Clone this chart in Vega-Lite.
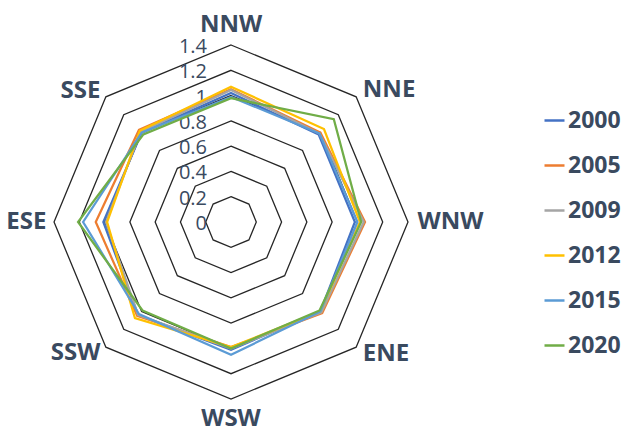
{
  "$schema": "https://vega.github.io/schema/vega-lite/v6.json",
  "width": 622,
  "height": 433,
  "autosize": "none",
  "padding": 0,
  "config": {"view": {"stroke": null}, "font": "Open Sans"},
  "datasets": {
    "series": [
      {"year": "2000", "direction": "NNW", "value": 1.02},
      {"year": "2000", "direction": "NNE", "value": 0.98},
      {"year": "2000", "direction": "WNW", "value": 0.98},
      {"year": "2000", "direction": "ENE", "value": 1.0},
      {"year": "2000", "direction": "WSW", "value": 1.01},
      {"year": "2000", "direction": "SSW", "value": 1.04},
      {"year": "2000", "direction": "ESE", "value": 1.01},
      {"year": "2000", "direction": "SSE", "value": 1.0},
      {"year": "2005", "direction": "NNW", "value": 1.05},
      {"year": "2005", "direction": "NNE", "value": 1.0},
      {"year": "2005", "direction": "WNW", "value": 1.06},
      {"year": "2005", "direction": "ENE", "value": 1.02},
      {"year": "2005", "direction": "WSW", "value": 0.99},
      {"year": "2005", "direction": "SSW", "value": 1.05},
      {"year": "2005", "direction": "ESE", "value": 1.07},
      {"year": "2005", "direction": "SSE", "value": 1.03},
      {"year": "2009", "direction": "NNW", "value": 1.045},
      {"year": "2009", "direction": "NNE", "value": 0.99},
      {"year": "2009", "direction": "WNW", "value": 1.05},
      {"year": "2009", "direction": "ENE", "value": 1.01},
      {"year": "2009", "direction": "WSW", "value": 1.0},
      {"year": "2009", "direction": "SSW", "value": 1.04},
      {"year": "2009", "direction": "ESE", "value": 0.99},
      {"year": "2009", "direction": "SSE", "value": 1.01},
      {"year": "2012", "direction": "NNW", "value": 1.07},
      {"year": "2012", "direction": "NNE", "value": 1.04},
      {"year": "2012", "direction": "WNW", "value": 1.02},
      {"year": "2012", "direction": "ENE", "value": 1.0},
      {"year": "2012", "direction": "WSW", "value": 0.99},
      {"year": "2012", "direction": "SSW", "value": 1.075},
      {"year": "2012", "direction": "ESE", "value": 0.98},
      {"year": "2012", "direction": "SSE", "value": 1.02},
      {"year": "2015", "direction": "NNW", "value": 0.99},
      {"year": "2015", "direction": "NNE", "value": 0.99},
      {"year": "2015", "direction": "WNW", "value": 1.0},
      {"year": "2015", "direction": "ENE", "value": 1.0},
      {"year": "2015", "direction": "WSW", "value": 1.05},
      {"year": "2015", "direction": "SSW", "value": 1.03},
      {"year": "2015", "direction": "ESE", "value": 1.17},
      {"year": "2015", "direction": "SSE", "value": 1.0},
      {"year": "2020", "direction": "NNW", "value": 0.98},
      {"year": "2020", "direction": "NNE", "value": 1.15},
      {"year": "2020", "direction": "WNW", "value": 1.03},
      {"year": "2020", "direction": "ENE", "value": 0.99},
      {"year": "2020", "direction": "WSW", "value": 1.0},
      {"year": "2020", "direction": "SSW", "value": 0.99},
      {"year": "2020", "direction": "ESE", "value": 1.21},
      {"year": "2020", "direction": "SSE", "value": 0.98}
    ],
    "grid": [
      {"level": 0.2, "direction": ["NNW","NNE","WNW","ENE","WSW","SSW","ESE","SSE"]},
      {"level": 0.4, "direction": ["NNW","NNE","WNW","ENE","WSW","SSW","ESE","SSE"]},
      {"level": 0.6, "direction": ["NNW","NNE","WNW","ENE","WSW","SSW","ESE","SSE"]},
      {"level": 0.8, "direction": ["NNW","NNE","WNW","ENE","WSW","SSW","ESE","SSE"]},
      {"level": 1.0, "direction": ["NNW","NNE","WNW","ENE","WSW","SSW","ESE","SSE"]},
      {"level": 1.2, "direction": ["NNW","NNE","WNW","ENE","WSW","SSW","ESE","SSE"]},
      {"level": 1.4, "direction": ["NNW","NNE","WNW","ENE","WSW","SSW","ESE","SSE"]}
    ],
    "ticks": [
      {"level": 0, "label": "0"},
      {"level": 0.2, "label": "0.2"},
      {"level": 0.4, "label": "0.4"},
      {"level": 0.6, "label": "0.6"},
      {"level": 0.8, "label": "0.8"},
      {"level": 1.0, "label": "1"},
      {"level": 1.2, "label": "1.2"},
      {"level": 1.4, "label": "1.4"}
    ],
    "dirs": [
      {"direction": "NNW", "side": "center"},
      {"direction": "NNE", "side": "left"},
      {"direction": "WNW", "side": "left"},
      {"direction": "ENE", "side": "left"},
      {"direction": "WSW", "side": "center"},
      {"direction": "SSW", "side": "right"},
      {"direction": "ESE", "side": "right"},
      {"direction": "SSE", "side": "right"}
    ]
  },
  "layer": [
    {
      "data": {"name": "grid"},
      "transform": [
        {"flatten": ["direction"]},
        {"calculate": "indexof(['NNW','NNE','WNW','ENE','WSW','SSW','ESE','SSE'], datum.direction)", "as": "idx"},
        {"calculate": "PI/2 - datum.idx*PI/4", "as": "ang"},
        {"calculate": "datum.level*cos(datum.ang)", "as": "px"},
        {"calculate": "datum.level*sin(datum.ang)", "as": "py"}
      ],
      "mark": {"type": "line", "interpolate": "linear-closed", "stroke": "#262626", "strokeWidth": 1.3},
      "encoding": {
        "x": {"field": "px", "type": "quantitative", "scale": {"domain": [-1.8275, 3.093], "nice": false, "zero": false}, "axis": null},
        "y": {"field": "py", "type": "quantitative", "scale": {"domain": [-1.669, 1.756], "nice": false, "zero": false}, "axis": null},
        "detail": {"field": "level", "type": "nominal"},
        "order": {"field": "idx", "type": "quantitative"}
      }
    },
    {
      "data": {"name": "ticks"},
      "mark": {"type": "text", "align": "right", "baseline": "middle", "dx": -24, "dy": 2, "fontSize": 20, "color": "#3a4a5f"},
      "encoding": {
        "x": {"datum": 0, "type": "quantitative"},
        "y": {"field": "level", "type": "quantitative"},
        "text": {"field": "label", "type": "nominal"}
      }
    },
    {
      "data": {"name": "series"},
      "transform": [
        {"calculate": "indexof(['NNW','NNE','WNW','ENE','WSW','SSW','ESE','SSE'], datum.direction)", "as": "idx"},
        {"calculate": "PI/2 - datum.idx*PI/4", "as": "ang"},
        {"calculate": "datum.value*cos(datum.ang)", "as": "px"},
        {"calculate": "datum.value*sin(datum.ang)", "as": "py"}
      ],
      "mark": {"type": "line", "interpolate": "linear-closed", "strokeWidth": 2.25},
      "encoding": {
        "x": {"field": "px", "type": "quantitative"},
        "y": {"field": "py", "type": "quantitative"},
        "order": {"field": "idx", "type": "quantitative"},
        "color": {
          "field": "year", "type": "nominal",
          "scale": {"domain": ["2000","2005","2009","2012","2015","2020"], "range": ["#4472C4","#ED7D31","#A5A5A5","#FFC000","#5B9BD5","#70AD47"]},
          "legend": {
            "title": null, "orient": "none", "legendX": 543, "legendY": 109,
            "symbolType": "stroke", "symbolSize": 400, "symbolStrokeWidth": 2.5,
            "labelFontSize": 23, "labelFontWeight": "bold", "labelColor": "#3a4a5f", "labelFont": "Open Sans",
            "labelOffset": 2, "rowPadding": 21, "padding": 0
          }
        }
      }
    },
    {
      "data": {"name": "dirs"},
      "transform": [
        {"filter": "datum.side == 'center'"},
        {"calculate": "indexof(['NNW','NNE','WNW','ENE','WSW','SSW','ESE','SSE'], datum.direction)", "as": "idx"},
        {"calculate": "PI/2 - datum.idx*PI/4", "as": "ang"},
        {"calculate": "1.555*cos(datum.ang)", "as": "px"},
        {"calculate": "1.555*sin(datum.ang)", "as": "py"}
      ],
      "mark": {"type": "text", "align": "center", "baseline": "middle", "fontSize": 24, "fontWeight": "bold", "color": "#3a4a5f"},
      "encoding": {
        "x": {"field": "px", "type": "quantitative"},
        "y": {"field": "py", "type": "quantitative"},
        "text": {"field": "direction", "type": "nominal"}
      }
    },
    {
      "data": {"name": "dirs"},
      "transform": [
        {"filter": "datum.side == 'left'"},
        {"calculate": "indexof(['NNW','NNE','WNW','ENE','WSW','SSW','ESE','SSE'], datum.direction)", "as": "idx"},
        {"calculate": "PI/2 - datum.idx*PI/4", "as": "ang"},
        {"calculate": "1.475*cos(datum.ang)", "as": "px"},
        {"calculate": "1.475*sin(datum.ang)", "as": "py"}
      ],
      "mark": {"type": "text", "align": "left", "baseline": "middle", "fontSize": 24, "fontWeight": "bold", "color": "#3a4a5f"},
      "encoding": {
        "x": {"field": "px", "type": "quantitative"},
        "y": {"field": "py", "type": "quantitative"},
        "text": {"field": "direction", "type": "nominal"}
      }
    },
    {
      "data": {"name": "dirs"},
      "transform": [
        {"filter": "datum.side == 'right'"},
        {"calculate": "indexof(['NNW','NNE','WNW','ENE','WSW','SSW','ESE','SSE'], datum.direction)", "as": "idx"},
        {"calculate": "PI/2 - datum.idx*PI/4", "as": "ang"},
        {"calculate": "1.46*cos(datum.ang)", "as": "px"},
        {"calculate": "1.46*sin(datum.ang)", "as": "py"}
      ],
      "mark": {"type": "text", "align": "right", "baseline": "middle", "fontSize": 24, "fontWeight": "bold", "color": "#3a4a5f"},
      "encoding": {
        "x": {"field": "px", "type": "quantitative"},
        "y": {"field": "py", "type": "quantitative"},
        "text": {"field": "direction", "type": "nominal"}
      }
    }
  ]
}
